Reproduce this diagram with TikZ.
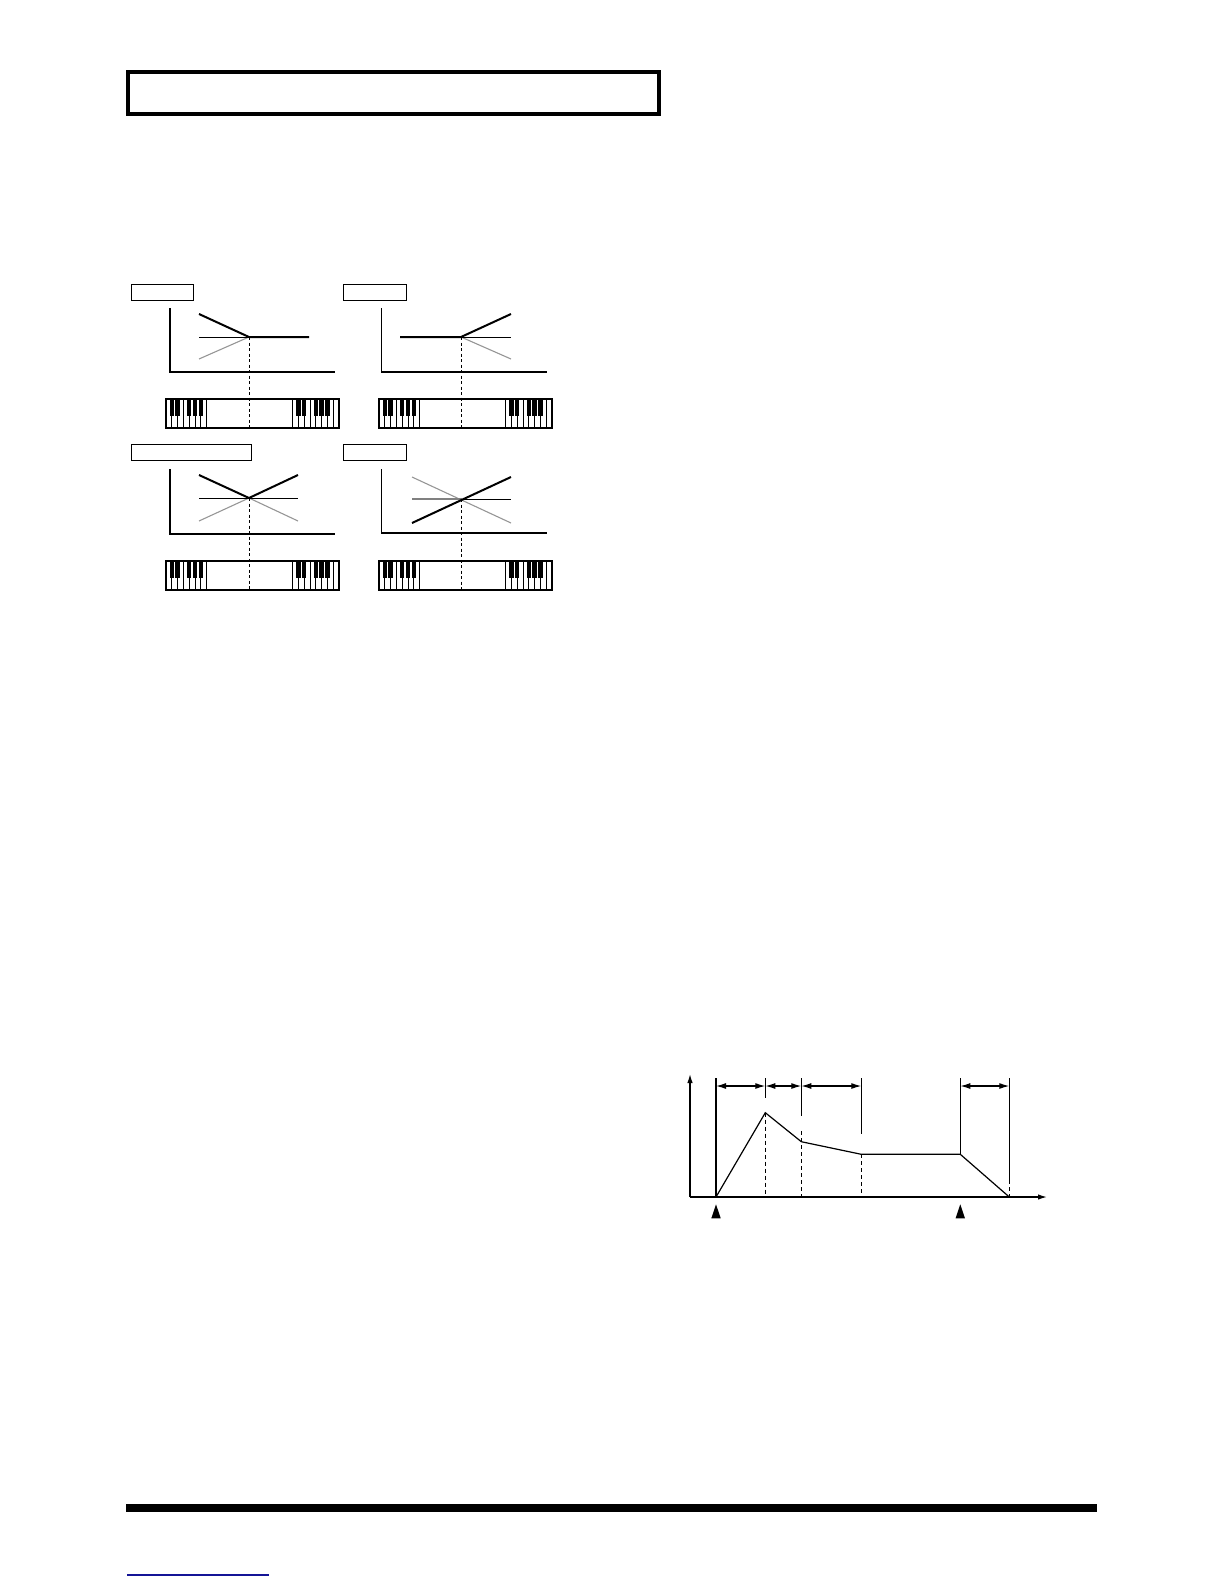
\documentclass[tikz,border=0pt]{standalone}
\usetikzlibrary{arrows.meta}
\definecolor{linkblue}{RGB}{20,20,150}
\definecolor{curvegray}{RGB}{150,150,150}
\tikzset{
  labelbox/.style={draw, line width=0.9pt},
  axisline/.style={line width=1.3pt},
  heavyline/.style={line width=2pt},
  lightline/.style={line width=0.9pt},
  grayline/.style={line width=1.1pt, draw=curvegray},
  guideline/.style={line width=1pt, dash pattern=on 3pt off 2.5pt},
  kbframe/.style={line width=1.2pt},
  keyline/.style={line width=0.8pt},
  envline/.style={line width=1.2pt},
  envdash/.style={line width=1.1pt, dash pattern=on 4pt off 3pt},
  dimarrow/.style={line width=1.2pt, {Latex[length=10pt,width=6pt]}-{Latex[length=10pt,width=6pt]}},
  axisarrow/.style={line width=1.3pt, -{Latex[length=9pt,width=5.5pt]}},
}
\newcommand{\kbdraw}[2]{%
  \begin{scope}[shift={(#1,#2)}]
    \foreach \i in {1,...,6} \draw[keyline] (\i*5.8,0) -- (\i*5.8,29);
    \foreach \b in {1,2,4,5,6} \fill (\b*5.8-2.2,0) rectangle (\b*5.8+2.2,17);
    \draw[kbframe] (40.6,0) -- (40.6,29);
    \begin{scope}[shift={(126.6,0)}]
      \foreach \i in {1,...,7} \draw[keyline] (\i*5.8,0) -- (\i*5.8,29);
      \foreach \b in {1,2,4,5,6} \fill (\b*5.8-2.2,0) rectangle (\b*5.8+2.2,17);
      \draw[kbframe] (0,0) -- (0,29);
    \end{scope}
    \draw[kbframe] (0,0) rectangle (173,29);
  \end{scope}}
\begin{document}
\begin{tikzpicture}[x=1pt,y=-1pt]
\useasboundingbox (0,0) rectangle (1224,1584);

% header box
\draw[line width=4pt] (128,72) rectangle (659,114);

% ---------- panel 1 ----------
\draw[labelbox] (131.5,284.5) rectangle (193.5,300.5);
\draw[axisline] (170,308) -- (170,372) -- (335,372);
\draw[grayline] (199,359) -- (249,337);
\draw[lightline] (199,337) -- (249,337);
\draw[heavyline] (199,314) -- (249,337) -- (309,337);
\draw[guideline] (249,337) -- (249,428);
\kbdraw{166}{399}

% ---------- panel 2 ----------
\draw[labelbox] (343,284.5) rectangle (406,300.5);
\draw[axisline] (381.5,308) -- (381.5,372) -- (547,372);
\draw[grayline] (461,337) -- (511,359);
\draw[lightline] (461,337) -- (511,337);
\draw[heavyline] (400,337) -- (461,337) -- (511,314);
\draw[guideline] (461,337) -- (461,428);
\kbdraw{379}{399}

% ---------- panel 3 ----------
\draw[labelbox] (131.5,444) rectangle (251.5,460);
\draw[axisline] (170,469) -- (170,534) -- (335,534);
\draw[grayline] (199,521) -- (249,498) -- (298,521);
\draw[lightline] (199,498) -- (298,498);
\draw[heavyline] (199,475) -- (249,498) -- (298,475);
\draw[guideline] (249,498) -- (249,589);
\kbdraw{166}{561}

% ---------- panel 4 ----------
\draw[labelbox] (343,444) rectangle (406,460);
\draw[axisline] (381.5,469) -- (381.5,533) -- (547,533);
\draw[grayline] (412,477) -- (511,523);
\draw[grayline, line width=1.6pt, draw=gray] (412,499) -- (461.5,499);
\draw[lightline] (461.5,499) -- (511,499);
\draw[heavyline] (412,523) -- (511,477);
\draw[guideline] (461.5,499) -- (461.5,589);
\kbdraw{379}{561}

% ---------- envelope ----------
\coordinate (O) at (690,1197);
\draw[axisarrow] (O) -- (690,1074);
\draw[axisarrow] (O) -- (1047,1197);

\coordinate (p0) at (716,1197);
\coordinate (p1) at (765.3,1112.7);
\coordinate (p2) at (801.3,1141.7);
\coordinate (p3) at (861.3,1154.3);
\coordinate (p4) at (960.3,1154.3);
\coordinate (p5) at (1009.3,1197);

\draw[envline] (716,1078) -- (p0);
\draw[envline] (765.3,1078) -- (765.3,1098);
\draw[envdash] (p1) -- (765.3,1197);
\draw[envline] (801.3,1078) -- (801.3,1116);
\draw[envdash] (801.3,1131) -- (801.3,1197);
\draw[envline] (861.3,1078) -- (861.3,1134);
\draw[envdash] (p3) -- (861.3,1197);
\draw[envline] (960.3,1078) -- (p4);
\draw[envline] (1009.3,1078) -- (1009.3,1180);
\draw[envdash] (1009.3,1180) -- (p5);

\draw[envline, line join=miter] (p0) -- (p1) -- (p2) -- (p3) -- (p4) -- (p5);

\draw[dimarrow] (716,1086) -- (765.3,1086);
\draw[dimarrow] (765.3,1086) -- (801.3,1086);
\draw[dimarrow] (801.3,1086) -- (861.3,1086);
\draw[dimarrow] (960.3,1086) -- (1009.3,1086);

\fill (716,1204.3) -- (711.3,1218.3) -- (720.7,1218.3) -- cycle;
\fill (960.3,1204.3) -- (955.6,1218.3) -- (965,1218.3) -- cycle;

% footer
\fill (126,1504) rectangle (1097,1512);
\draw[linkblue, line width=1.8pt] (127,1575) -- (269,1575);
\end{tikzpicture}
\end{document}
